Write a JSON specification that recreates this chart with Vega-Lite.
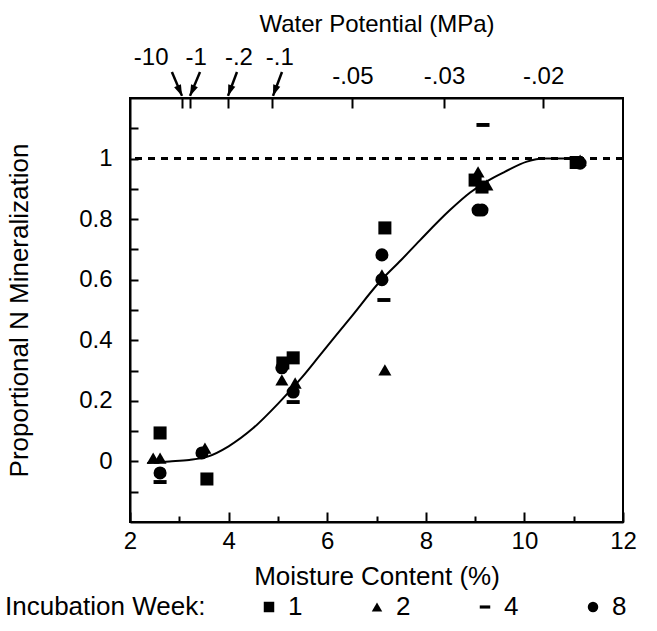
{
  "$schema": "https://vega.github.io/schema/vega-lite/v6.json",
  "width": 493,
  "height": 424,
  "autosize": {"type": "none"},
  "padding": {"left": 130, "top": 98, "right": 34, "bottom": 109},
  "background": "white",
  "config": {
    "font": "Liberation Sans",
    "view": {"stroke": "black", "strokeWidth": 2},
    "axis": {
      "grid": false, "domainColor": "black", "domainWidth": 2,
      "tickColor": "black", "tickWidth": 2,
      "labelColor": "black", "titleColor": "black",
      "labelFont": "Liberation Sans", "titleFont": "Liberation Sans",
      "labelFontSize": 24, "titleFontSize": 26, "titleFontWeight": "normal",
      "labelFlush": false, "labelOverlap": false
    }
  },
  "datasets": {
    "points": [
      {"moisture": 2.61, "prop": 0.094, "week": "1"},
      {"moisture": 3.56, "prop": -0.058, "week": "1"},
      {"moisture": 5.10, "prop": 0.325, "week": "1"},
      {"moisture": 5.31, "prop": 0.342, "week": "1"},
      {"moisture": 7.17, "prop": 0.771, "week": "1"},
      {"moisture": 9.0, "prop": 0.929, "week": "1"},
      {"moisture": 9.14, "prop": 0.906, "week": "1"},
      {"moisture": 11.05, "prop": 0.987, "week": "1"},
      {"moisture": 2.47, "prop": 0.011, "week": "2"},
      {"moisture": 2.61, "prop": 0.011, "week": "2"},
      {"moisture": 3.52, "prop": 0.044, "week": "2"},
      {"moisture": 5.08, "prop": 0.269, "week": "2"},
      {"moisture": 5.35, "prop": 0.259, "week": "2"},
      {"moisture": 7.11, "prop": 0.616, "week": "2"},
      {"moisture": 7.17, "prop": 0.302, "week": "2"},
      {"moisture": 9.06, "prop": 0.956, "week": "2"},
      {"moisture": 9.24, "prop": 0.913, "week": "2"},
      {"moisture": 11.13, "prop": 0.995, "week": "2"},
      {"moisture": 2.61, "prop": -0.068, "week": "4"},
      {"moisture": 5.31, "prop": 0.196, "week": "4"},
      {"moisture": 7.15, "prop": 0.533, "week": "4"},
      {"moisture": 9.16, "prop": 1.111, "week": "4"},
      {"moisture": 2.61, "prop": -0.038, "week": "8"},
      {"moisture": 3.46, "prop": 0.028, "week": "8"},
      {"moisture": 5.08, "prop": 0.309, "week": "8"},
      {"moisture": 5.31, "prop": 0.229, "week": "8"},
      {"moisture": 7.11, "prop": 0.682, "week": "8"},
      {"moisture": 7.11, "prop": 0.600, "week": "8"},
      {"moisture": 9.06, "prop": 0.830, "week": "8"},
      {"moisture": 9.14, "prop": 0.830, "week": "8"},
      {"moisture": 11.13, "prop": 0.985, "week": "8"}
    ],
    "curve": [
      {"moisture": 2.35, "prop": -0.005},
      {"moisture": 2.8, "prop": 0.0},
      {"moisture": 3.2, "prop": 0.005},
      {"moisture": 3.56, "prop": 0.015},
      {"moisture": 4.0, "prop": 0.05},
      {"moisture": 4.5, "prop": 0.11},
      {"moisture": 5.0, "prop": 0.19},
      {"moisture": 5.5, "prop": 0.28},
      {"moisture": 5.85, "prop": 0.35},
      {"moisture": 6.5, "prop": 0.48},
      {"moisture": 7.07, "prop": 0.594},
      {"moisture": 7.5, "prop": 0.665},
      {"moisture": 7.88, "prop": 0.73},
      {"moisture": 8.49, "prop": 0.83},
      {"moisture": 8.9, "prop": 0.888},
      {"moisture": 9.24, "prop": 0.925},
      {"moisture": 9.6, "prop": 0.956},
      {"moisture": 10.05, "prop": 0.99},
      {"moisture": 10.4, "prop": 1.0},
      {"moisture": 11.1, "prop": 1.0}
    ],
    "arrows": [
      {"label": "-10", "lx": 2.43, "ly": 1.332, "tx": 2.85, "ty": 1.286, "hx": 3.055, "hy": 1.207, "dir": 156},
      {"label": "-1", "lx": 3.34, "ly": 1.332, "tx": 3.42, "ty": 1.286, "hx": 3.217, "hy": 1.207, "dir": 204},
      {"label": "-.2", "lx": 4.21, "ly": 1.332, "tx": 4.17, "ty": 1.286, "hx": 3.988, "hy": 1.207, "dir": 200},
      {"label": "-.1", "lx": 5.04, "ly": 1.332, "tx": 5.083, "ty": 1.286, "hx": 4.90, "hy": 1.207, "dir": 200}
    ]
  },
  "layer": [
    {
      "data": {"values": [{"level": 1}]},
      "mark": {"type": "rule", "strokeDash": [7, 6], "strokeWidth": 3, "color": "black"},
      "encoding": {
        "y": {"field": "level", "type": "quantitative", "scale": {"domain": [-0.2, 1.2], "nice": false, "zero": false}, "axis": null}
      }
    },
    {
      "data": {"name": "curve"},
      "mark": {"type": "line", "interpolate": "monotone", "color": "black", "strokeWidth": 2},
      "encoding": {
        "x": {"field": "moisture", "type": "quantitative", "scale": {"domain": [2, 12], "nice": false, "zero": false}, "axis": null},
        "y": {"field": "prop", "type": "quantitative", "scale": {"domain": [-0.2, 1.2], "nice": false, "zero": false}, "axis": null}
      }
    },
    {
      "data": {"name": "points"},
      "mark": {"type": "point", "filled": true, "color": "black", "opacity": 1, "size": 170},
      "encoding": {
        "x": {
          "field": "moisture", "type": "quantitative",
          "scale": {"domain": [2, 12], "nice": false, "zero": false},
          "axis": {
            "orient": "bottom", "title": "Moisture Content (%)",
            "values": [2, 3, 4, 5, 6, 7, 8, 9, 10, 11, 12],
            "labelExpr": "datum.value % 2 == 0 ? datum.label : ''",
            "tickSize": {"condition": {"test": "datum.value % 2 == 0", "value": -10}, "value": -6},
            "labelPadding": 17, "titlePadding": 6
          }
        },
        "y": {
          "field": "prop", "type": "quantitative",
          "scale": {"domain": [-0.2, 1.2], "nice": false, "zero": false},
          "axis": {
            "orient": "left",
            "title": "Proportional N Mineralization",
            "values": [-0.1, 0, 0.1, 0.2, 0.3, 0.4, 0.5, 0.6, 0.7, 0.8, 0.9, 1, 1.1],
            "labelExpr": "round(datum.value * 10) % 2 == 0 ? format(datum.value, '~g') : ''",
            "tickSize": -8, "labelPadding": 26, "titlePadding": 46
          }
        },
        "shape": {
          "field": "week", "type": "nominal",
          "scale": {"domain": ["1", "2", "4", "8"], "range": ["square", "triangle-up", "M-1,-0.3H1V0.3H-1Z", "circle"]},
          "legend": {
            "orient": "none", "legendX": -125, "legendY": 496,
            "direction": "horizontal", "title": "Incubation Week:", "titleOrient": "left",
            "titleFont": "Liberation Sans", "titleFontSize": 26, "titleFontWeight": "normal", "titleColor": "black",
            "titleLimit": 400,
            "labelFont": "Liberation Sans", "labelFontSize": 26, "labelColor": "black",
            "titlePadding": 50, "columnPadding": 61, "labelOffset": 6, "symbolSize": 110,
            "symbolFillColor": "black", "symbolStrokeColor": "black"
          }
        }
      }
    },
    {
      "data": {"name": "arrows"},
      "mark": {"type": "rule", "color": "black", "strokeWidth": 2.5},
      "encoding": {
        "x": {"field": "tx", "type": "quantitative", "scale": {"domain": [2, 12], "nice": false, "zero": false}, "axis": null},
        "y": {"field": "ty", "type": "quantitative", "scale": {"domain": [-0.2, 1.2], "nice": false, "zero": false}, "axis": null},
        "x2": {"field": "hx"},
        "y2": {"field": "hy"}
      }
    },
    {
      "data": {"name": "arrows"},
      "mark": {"type": "point", "filled": true, "color": "black", "opacity": 1, "size": 100, "shape": "M0,0L0.75,2.2L-0.75,2.2Z"},
      "encoding": {
        "x": {"field": "hx", "type": "quantitative", "scale": {"domain": [2, 12], "nice": false, "zero": false}, "axis": null},
        "y": {"field": "hy", "type": "quantitative", "scale": {"domain": [-0.2, 1.2], "nice": false, "zero": false}, "axis": null},
        "angle": {"field": "dir", "type": "quantitative", "scale": null}
      }
    },
    {
      "data": {"name": "arrows"},
      "mark": {"type": "text", "fontSize": 24, "font": "Liberation Sans", "color": "black", "align": "center", "baseline": "middle"},
      "encoding": {
        "x": {
          "field": "lx", "type": "quantitative",
          "scale": {"domain": [2, 12], "nice": false, "zero": false},
          "axis": {
            "orient": "top", "title": "Water Potential (MPa)", "titleFontSize": 24,
            "values": [3.06, 3.22, 3.98, 4.89, 6.51, 8.37, 10.38],
            "labelExpr": "datum.value == 6.51 ? '-.05' : datum.value == 8.37 ? '-.03' : datum.value == 10.38 ? '-.02' : ''",
            "tickSize": -10, "labelPadding": 20, "titlePadding": 28
          }
        },
        "y": {"field": "ly", "type": "quantitative", "scale": {"domain": [-0.2, 1.2], "nice": false, "zero": false}, "axis": null},
        "text": {"field": "label"}
      }
    }
  ],
  "resolve": {"axis": {"x": "independent", "y": "independent"}}
}
